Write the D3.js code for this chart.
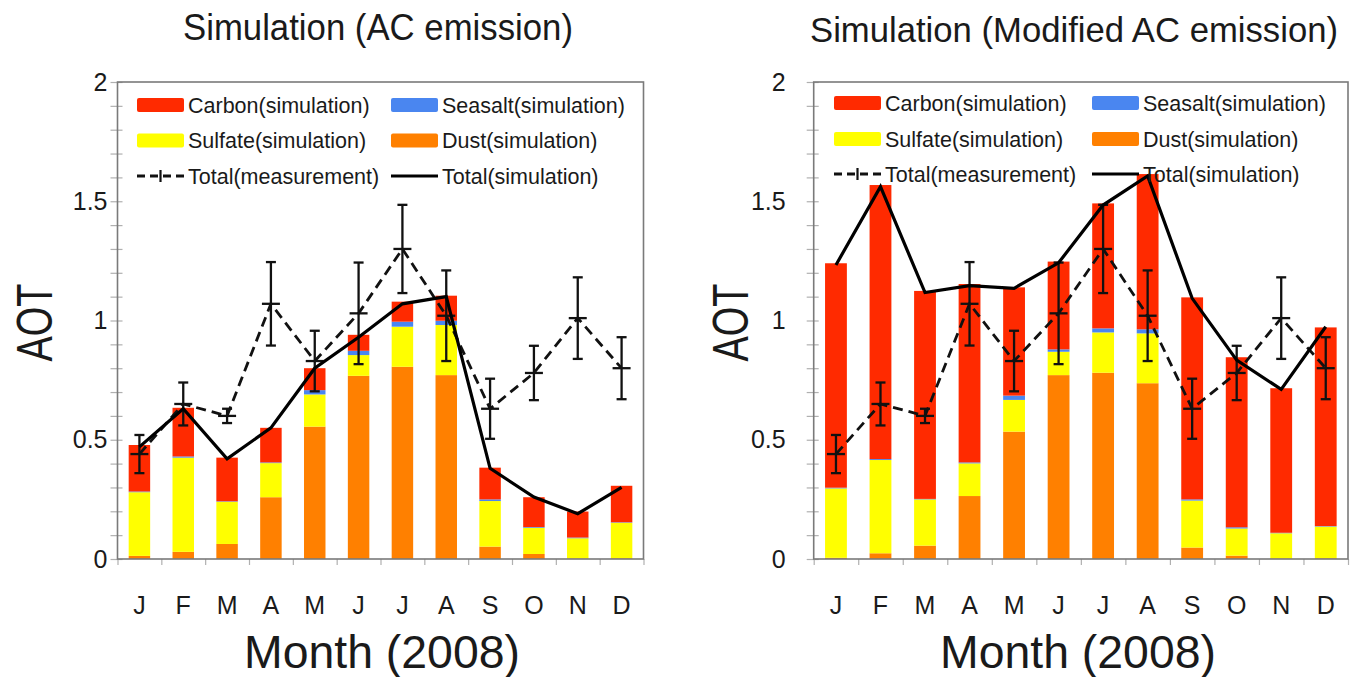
<!DOCTYPE html>
<html>
<head>
<meta charset="utf-8">
<script src="https://cdn.jsdelivr.net/npm/d3@7"></script>
<style>
  html, body { margin: 0; padding: 0; background: #fff; }
  svg { display: block; }
  text { font-family: "Liberation Sans", Arial, sans-serif; fill: #1a1a1a; }
</style>
</head>
<body>
<svg id="chart" width="1353" height="677"></svg>
<script>
// ---------- data ----------
const months = ["J","F","M","A","M","J","J","A","S","O","N","D"];
const yTickValues = [0, 0.5, 1, 1.5, 2];
const yTickLabels = ["0", "0.5", "1", "1.5", "2"];

// measurement (same in both panels)
const measTotal = [0.44, 0.65, 0.60, 1.07, 0.83, 1.03, 1.30, 1.02, 0.63, 0.78, 1.01, 0.80];
const measErr   = [0.08, 0.09, 0.03, 0.175, 0.127, 0.213, 0.185, 0.19, 0.126, 0.114, 0.171, 0.13];

// left panel: AC emission
const acDust    = [0.013, 0.030, 0.063, 0.259, 0.555, 0.768, 0.806, 0.771, 0.052, 0.021, 0.002, 0.003];
const acSulfate = [0.267, 0.395, 0.177, 0.143, 0.135, 0.087, 0.168, 0.210, 0.191, 0.110, 0.085, 0.149];
const acSeasalt = [0.003, 0.005, 0.002, 0.003, 0.018, 0.018, 0.021, 0.018, 0.007, 0.003, 0.003, 0.002];
const acCarbon  = [0.195, 0.204, 0.183, 0.145, 0.092, 0.067, 0.084, 0.105, 0.133, 0.125, 0.109, 0.153];
const acSimTotal = [0.47, 0.63, 0.42, 0.55, 0.80, 0.93, 1.07, 1.10, 0.38, 0.26, 0.19, 0.30];

// right panel: Modified AC emission
const modDust    = [0.005, 0.024, 0.056, 0.264, 0.534, 0.771, 0.781, 0.737, 0.048, 0.014, 0.002, 0.003];
const modSulfate = [0.291, 0.391, 0.194, 0.137, 0.133, 0.098, 0.169, 0.209, 0.197, 0.114, 0.106, 0.133];
const modSeasalt = [0.003, 0.004, 0.002, 0.004, 0.018, 0.010, 0.017, 0.017, 0.005, 0.005, 0.002, 0.002];
const modCarbon  = [0.941, 1.149, 0.872, 0.748, 0.454, 0.368, 0.524, 0.651, 0.847, 0.713, 0.606, 0.833];
const modSimTotal = [1.233, 1.561, 1.117, 1.146, 1.135, 1.242, 1.484, 1.606, 1.093, 0.834, 0.711, 0.974];

const legendLabels = ["Carbon(simulation)", "Seasalt(simulation)", "Sulfate(simulation)",
                      "Dust(simulation)", "Total(measurement)", "Total(simulation)"];

// ---------- styles ----------
const colors = { carbon: "#FF2A00", seasalt: "#4A86F0", sulfate: "#FFFF00", dust: "#FF8000" };
const keys = ["dust", "sulfate", "seasalt", "carbon"];

const svg = d3.select("#chart");

function drawPanel(cfg) {
  const { x0, x1, yTop, yBot, title, titleX, titleY, titleLen, titleSize, dust, sulfate, seasalt, carbon,
          simTotal, labelPad, aotX, monthX, legend } = cfg;

  const g = svg.append("g");
  const idx = d3.range(months.length);
  const x = d3.scaleBand().domain(idx).range([x0, x1]).paddingInner(0.51).paddingOuter(0.255);
  const xEdge = d3.scaleLinear().domain([0, 12]).range([x0, x1]);
  const y = d3.scaleLinear().domain([0, 2]).range([yBot, yTop]);

  const table = idx.map(i => ({ i, dust: dust[i], sulfate: sulfate[i], seasalt: seasalt[i], carbon: carbon[i] }));
  const stacked = d3.stack().keys(keys)(table);

  // y axis ticks (minor every 0.1, labels at 0.5)
  const yAxis = d3.axisLeft(y)
    .tickValues(d3.range(0, 21).map(k => k / 10))
    .tickSize(7).tickPadding(labelPad)
    .tickFormat(d => {
      const j = yTickValues.findIndex(v => Math.abs(v - d) < 1e-6);
      return j >= 0 ? yTickLabels[j] : "";
    });
  const ya = g.append("g").attr("transform", `translate(${x0},0)`).call(yAxis);
  ya.select(".domain").remove();
  ya.selectAll(".tick line").attr("stroke", "#b0b0b0").attr("stroke-width", 1.2).attr("x2", -7).attr("x1", 5);
  ya.selectAll(".tick text").style("font-size", "25px").attr("fill", "#1a1a1a");

  // x axis: boundary ticks
  const xaEdge = g.append("g").attr("transform", `translate(0,${yBot})`)
    .call(d3.axisBottom(xEdge).tickValues(d3.range(0, 13)).tickSize(6).tickFormat(""));
  xaEdge.select(".domain").remove();
  xaEdge.selectAll(".tick line").attr("stroke", "#b0b0b0").attr("stroke-width", 1.2);

  // x axis: month labels
  const xa = g.append("g").attr("transform", `translate(0,${yBot})`)
    .call(d3.axisBottom(x).tickSize(0).tickPadding(55).tickFormat(i => months[i]));
  xa.select(".domain").remove();
  xa.selectAll(".tick text").style("font-size", "25px").attr("fill", "#1a1a1a").attr("dy", "0");

  // bars
  g.append("g").selectAll("g").data(stacked).join("g")
    .attr("fill", d => colors[d.key])
    .selectAll("rect").data(d => d).join("rect")
    .attr("x", d => x(d.data.i))
    .attr("width", x.bandwidth())
    .attr("y", d => y(d[1]))
    .attr("height", d => Math.max(0, y(d[0]) - y(d[1])));

  // plot border
  g.append("rect").attr("x", x0).attr("y", yTop).attr("width", x1 - x0).attr("height", yBot - yTop)
    .attr("fill", "none").attr("stroke", "#7a7a7a").attr("stroke-width", 1.6);

  const cx = i => x(i) + x.bandwidth() / 2;

  // measurement dashed line
  g.append("path").datum(measTotal)
    .attr("d", d3.line().x((d, i) => cx(i)).y(d => y(d)))
    .attr("fill", "none").attr("stroke", "#111").attr("stroke-width", 2.8).attr("stroke-dasharray", "10,6");

  // error bars + markers
  const eb = g.append("g").attr("stroke", "#111").attr("stroke-width", 2.3);
  idx.forEach(i => {
    const c = cx(i), v = measTotal[i], e = measErr[i];
    eb.append("line").attr("x1", c).attr("x2", c).attr("y1", y(v - e)).attr("y2", y(v + e));
    eb.append("line").attr("x1", c - 5).attr("x2", c + 5).attr("y1", y(v - e)).attr("y2", y(v - e));
    eb.append("line").attr("x1", c - 5).attr("x2", c + 5).attr("y1", y(v + e)).attr("y2", y(v + e));
    eb.append("line").attr("x1", c - 9).attr("x2", c + 9).attr("y1", y(v)).attr("y2", y(v));
  });

  // simulation total line
  g.append("path").datum(simTotal)
    .attr("d", d3.line().x((d, i) => cx(i)).y(d => y(d)))
    .attr("fill", "none").attr("stroke", "#000").attr("stroke-width", 3.2).attr("stroke-linejoin", "miter");

  // legend
  const L = legend;
  const items = [
    { type: "rect", color: colors.carbon, label: legendLabels[0], col: 0, row: 0 },
    { type: "rect", color: colors.seasalt, label: legendLabels[1], col: 1, row: 0 },
    { type: "rect", color: colors.sulfate, label: legendLabels[2], col: 0, row: 1 },
    { type: "rect", color: colors.dust, label: legendLabels[3], col: 1, row: 1 },
    { type: "meas", label: legendLabels[4], col: 0, row: 2 },
    { type: "sim", label: legendLabels[5], col: 1, row: 2 }
  ];
  const lg = g.append("g");
  items.forEach(it => {
    const sx = L.colX[it.col], sy = L.rowY[it.row];
    if (it.type === "rect") {
      lg.append("rect").attr("x", sx).attr("y", sy - 7).attr("width", 47).attr("height", 14)
        .attr("rx", 2).attr("fill", it.color);
    } else if (it.type === "meas") {
      lg.append("line").attr("x1", sx).attr("x2", sx + 47).attr("y1", sy).attr("y2", sy)
        .attr("stroke", "#111").attr("stroke-width", 2.8).attr("stroke-dasharray", "8,5");
      lg.append("line").attr("x1", sx + 23.5).attr("x2", sx + 23.5).attr("y1", sy - 6).attr("y2", sy + 6)
        .attr("stroke", "#111").attr("stroke-width", 2.2);
    } else {
      lg.append("line").attr("x1", sx).attr("x2", sx + 47).attr("y1", sy).attr("y2", sy)
        .attr("stroke", "#000").attr("stroke-width", 3.2);
    }
    lg.append("text").attr("x", sx + 51).attr("y", sy).attr("dy", "0.36em")
      .style("font-size", "21.5px").attr("fill", "#222").text(it.label);
  });

  // titles
  svg.append("text").attr("x", titleX).attr("y", titleY).attr("text-anchor", "middle")
    .style("font-size", titleSize + "px").attr("textLength", titleLen).attr("lengthAdjust", "spacingAndGlyphs").text(title);
  svg.append("text").attr("transform", `translate(${aotX},${(yTop + yBot) / 2 + 2}) rotate(-90)`)
    .attr("text-anchor", "middle").attr("dy", "0.36em")
    .style("font-size", "50px").attr("textLength", 78).attr("lengthAdjust", "spacingAndGlyphs").text("AOT");
  svg.append("text").attr("x", monthX).attr("y", 668).attr("text-anchor", "middle")
    .style("font-size", "47px").attr("textLength", 276).attr("lengthAdjust", "spacingAndGlyphs").text("Month (2008)");
}

drawPanel({
  x0: 117.5, x1: 643.5, yTop: 82, yBot: 559,
  title: "Simulation (AC emission)", titleX: 378, titleY: 40, titleLen: 390, titleSize: 36,
  dust: acDust, sulfate: acSulfate, seasalt: acSeasalt, carbon: acCarbon, simTotal: acSimTotal,
  labelPad: 3, aotX: 34, monthX: 382,
  legend: { colX: [137, 391], rowY: [105, 140.5, 176] }
});

drawPanel({
  x0: 813.7, x1: 1348, yTop: 82, yBot: 559,
  title: "Simulation (Modified AC emission)", titleX: 1074, titleY: 42, titleLen: 528, titleSize: 34.5,
  dust: modDust, sulfate: modSulfate, seasalt: modSeasalt, carbon: modCarbon, simTotal: modSimTotal,
  labelPad: 21, aotX: 730, monthX: 1078,
  legend: { colX: [834, 1092], rowY: [103, 139, 174] }
});
</script>
</body>
</html>
